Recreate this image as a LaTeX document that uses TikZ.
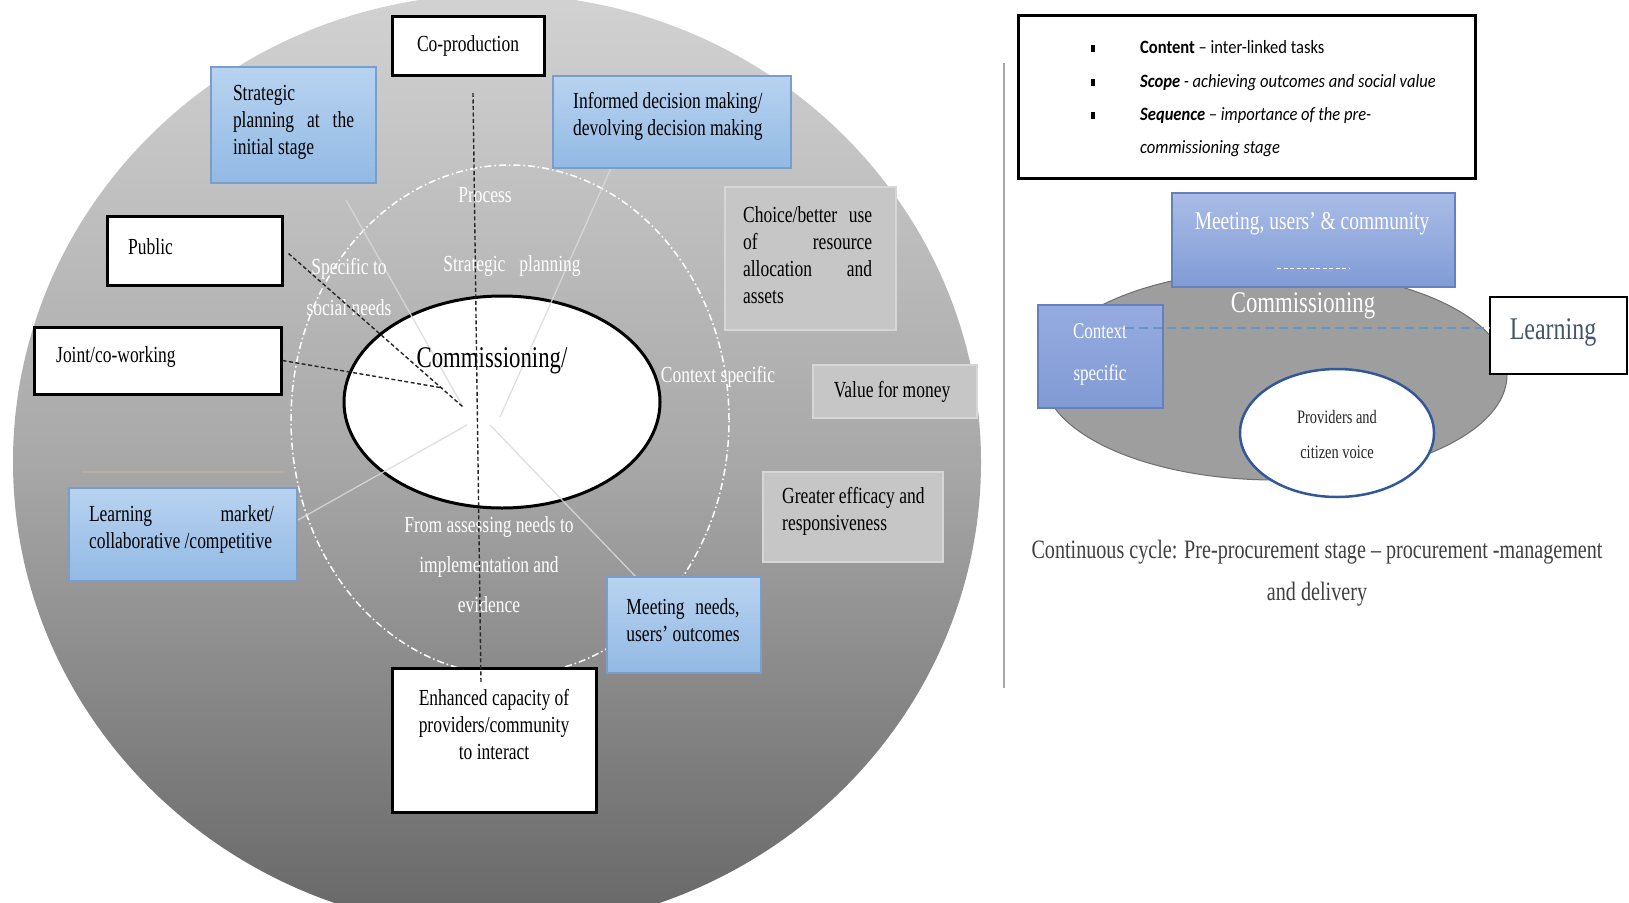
\documentclass[tikz,border=0pt]{standalone}
\usepackage{fontspec}
\usetikzlibrary{shapes.geometric}
\newfontfamily\cs{Liberation Serif}[FakeStretch=0.76]
\newfontfamily\calb{Carlito}[FakeStretch=0.88]
\definecolor{bluetop}{RGB}{184,211,240}
\definecolor{bluebot}{RGB}{146,185,228}
\definecolor{blueedge}{RGB}{122,158,204}
\definecolor{grayfill}{RGB}{198,198,198}
\definecolor{grayedge}{RGB}{214,214,214}
\definecolor{circtop}{RGB}{210,210,210}
\definecolor{circmid}{RGB}{168,168,168}
\definecolor{circbot}{RGB}{102,102,102}
\definecolor{rbtop}{RGB}{170,188,230}
\definecolor{rbbot}{RGB}{128,156,214}
\definecolor{rbedge}{RGB}{100,128,190}
\definecolor{ctxtop}{RGB}{150,172,224}
\definecolor{ctxbot}{RGB}{128,154,212}
\definecolor{ellgray}{RGB}{158,158,158}
\definecolor{elledge}{RGB}{110,110,110}
\definecolor{provedge}{RGB}{50,88,155}
\definecolor{dashblue}{RGB}{100,150,200}
\definecolor{learncol}{RGB}{68,84,106}
\definecolor{captcol}{RGB}{64,64,64}
\definecolor{spoke}{RGB}{218,218,218}
\definecolor{tanline}{RGB}{196,176,156}
\begin{document}
\begin{tikzpicture}[x=1pt,y=-1pt,
  lt/.style={font=\cs\fontsize{23}{27}\selectfont, text=black, inner sep=0pt},
  wt/.style={font=\cs\fontsize{23}{27}\selectfont, text=white, inner sep=0pt},
  wbox/.style={draw=black, line width=3pt, fill=white, rectangle, inner sep=0pt},
  bbox/.style={draw=blueedge, line width=1.2pt, top color=bluetop, bottom color=bluebot, rectangle, inner sep=0pt},
  gbox/.style={draw=grayedge, line width=1.2pt, fill=grayfill, rectangle, inner sep=0pt},
  blkdash/.style={draw=black!85, line width=1.4pt, dash pattern=on 4pt off 2.5pt},
  spokeline/.style={draw=spoke, line width=1.3pt, opacity=0.85},
  rbox/.style={draw=rbedge, line width=1.2pt, top color=rbtop, bottom color=rbbot, rectangle, inner sep=0pt},
  bul/.style={fill=black, rectangle, minimum width=4.5pt, minimum height=7pt, inner sep=0pt},
]
\fill[white] (0,0) rectangle (1629,902);
\useasboundingbox (0,0) rectangle (1629,902);

% ---------------- left panel ----------------
\node[ellipse, minimum width=968pt, minimum height=936pt, inner sep=0pt,
      top color=circtop, bottom color=circbot, middle color=circmid] (outer) at (497,462) {};
\node[ellipse, draw=white, line width=1.5pt, dash pattern=on 7pt off 3pt on 1.5pt off 3pt,
      minimum width=438pt, minimum height=510pt, inner sep=0pt] (ring) at (510,420) {};
\node[ellipse, draw=black, line width=3pt, fill=white, minimum width=316pt,
      minimum height=212pt, inner sep=0pt] (comm) at (502,402) {};

% faint spokes
\coordinate (h1) at (500,417); \coordinate (e1) at (611,168);
\coordinate (h2) at (463,407); \coordinate (e2) at (346,200);
\coordinate (h3) at (467,425); \coordinate (e3) at (298,520);
\coordinate (h4) at (490,425); \coordinate (e4) at (637,578);
\draw[spokeline] (h1) -- (e1);
\draw[spokeline] (h2) -- (e2);
\draw[spokeline] (h3) -- (e3);
\draw[spokeline] (h4) -- (e4);
\coordinate (tl1) at (82,472); \coordinate (tl2) at (284,472);
\draw[tanline, line width=1.5pt, opacity=0.6] (tl1) -- (tl2);

% boxes
\node[wbox, minimum width=152pt, minimum height=59pt] (copro) at (468,45.5) {};
\node[bbox, minimum width=165pt, minimum height=116pt] (strat) at (293.5,125) {};
\node[bbox, minimum width=238pt, minimum height=92pt] (inform) at (672,122) {};
\node[gbox, minimum width=171pt, minimum height=143pt] (choice) at (810.5,258.5) {};
\node[wbox, minimum width=175pt, minimum height=69pt] (public) at (194.5,250.5) {};
\node[wbox, minimum width=247pt, minimum height=67pt] (joint) at (157.5,360.5) {};
\node[gbox, minimum width=164pt, minimum height=53pt] (value) at (895,391.5) {};
\node[bbox, minimum width=228pt, minimum height=93pt] (learnm) at (183,534.5) {};
\node[gbox, minimum width=180pt, minimum height=90pt] (greater) at (853,517) {};
\node[bbox, minimum width=154pt, minimum height=96pt] (meetn) at (684,625) {};
\node[wbox, minimum width=204pt, minimum height=144pt] (enh) at (494,740) {};

% box texts
\node[lt] (tcopro) at (468,46) {Co-production};
\node[lt, align=left] (tstrat) at (293.5,122) {Strategic\\\makebox[121pt][s]{planning at the}\\initial stage};
\node[lt, align=left, anchor=west] (tinform) at (573,116.5) {Informed decision making/\\devolving decision making};
\node[lt, align=left] (tchoice) at (808.5,255) {\makebox[129pt][s]{Choice/better use}\\\makebox[129pt][s]{of resource}\\\makebox[129pt][s]{allocation and}\\assets\hspace*{90pt}};
\node[lt, anchor=west] (tpublic) at (128,247) {Public};
\node[lt, anchor=west] (tjoint) at (56,357) {Joint/co-working};
\node[lt] (tvalue) at (892,392) {Value for money};
\node[lt, align=left] (tlearnm) at (181.5,529) {\makebox[185pt][s]{Learning market/}\\collaborative /competitive};
\node[lt, align=left, anchor=west] (tgreater) at (782,511) {Greater efficacy and\\responsiveness};
\node[lt, align=left] (tmeetn) at (683,620) {\makebox[113pt][s]{Meeting needs,}\\users’ outcomes};
\node[lt, align=center] (tenh) at (494,725) {Enhanced capacity of\\providers/community\\to interact};

% white labels in ring
\node[wt] (process) at (485,195) {Process};
\node[wt] (stratpl) at (512,266) {Strategic\hspace{14pt}planning};
\node[wt, align=center, font=\cs\fontsize{23}{41}\selectfont] (specific) at (349,287) {Specific to\\social needs};
\node[wt] (ctxspec) at (718,377) {Context specific};
\node[wt, align=center, font=\cs\fontsize{23}{40}\selectfont] (fromass) at (489,565) {From assessing needs to\\implementation and\\evidence};
\node[inner sep=0pt, font=\cs\fontsize{30}{34}\selectfont] (tcomm) at (492,361) {Commissioning/};

% black dashed connectors
\coordinate (vtop) at (473,93);
\coordinate (vbot) at (481,683);
\coordinate (pubend) at (463,407);
\coordinate (jointend) at (443,388);
\draw[blkdash] (vtop) -- (vbot);
\draw[blkdash] ([xshift=5pt,yshift=-3pt]public.east) -- (pubend);
\draw[blkdash] (joint.east) -- (jointend);

% ---------------- right panel ----------------
\coordinate (septop) at (1004,63);
\coordinate (sepbot) at (1004,688);
\draw[gray!70, line width=1.5pt] (septop) -- (sepbot);

\node[wbox, minimum width=457pt, minimum height=163pt] (bulletbox) at (1246.5,96.5) {};
\node[bul] (b1) at (1093,48) {};
\node[bul] (b2) at (1093,82) {};
\node[bul] (b3) at (1093,115) {};
\node[inner sep=0pt, anchor=west, align=left, font=\calb\fontsize{18.8}{33.3}\selectfont] (bullets) at (1140,99)
  {\textbf{Content} – inter-linked tasks\\
   \textbf{\textit{Scope}} \textit{- achieving outcomes and social value}\\
   \textbf{\textit{Sequence}} \textit{– importance of the pre-}\\
   \textit{commissioning stage}};

\node[ellipse, fill=ellgray, draw=elledge, line width=1pt, minimum width=464pt,
      minimum height=210pt, inner sep=0pt] (cycle) at (1275,375) {};
\node[rbox, minimum width=283pt, minimum height=94pt] (meetu) at (1313.5,240) {};
\node[inner sep=0pt, text=white, font=\cs\fontsize{25.6}{30}\selectfont] (tmeetu) at (1312,224) {Meeting, users’ \& community};
\coordinate (d1) at (1277,268); \coordinate (d2) at (1349,268);
\draw[white, line width=1pt, dash pattern=on 4pt off 2.5pt] (d1) -- (d2);

\node[draw=rbedge, line width=1.2pt, top color=ctxtop, bottom color=ctxbot, rectangle,
      inner sep=0pt, minimum width=125pt, minimum height=103pt] (ctx) at (1100.5,356.5) {};
\node[inner sep=0pt, text=white, align=center, font=\cs\fontsize{22.4}{42}\selectfont] (tctx) at (1100,354) {Context\\specific};
\node[inner sep=0pt, text=white, font=\cs\fontsize{30}{34}\selectfont] (tcycle) at (1303,306) {Commissioning};

\node[draw=black, line width=1.3pt, fill=white, rectangle, inner sep=0pt,
      minimum width=137pt, minimum height=77pt] (learn) at (1558.5,335.5) {};
\node[inner sep=0pt, text=learncol, font=\cs\fontsize{31.5}{36}\selectfont] (tlearn) at (1553,332) {Learning};

\coordinate (ctxin) at (1125,328);
\draw[dashblue, line width=2.5pt, dash pattern=on 9pt off 5pt] (ctxin) -- (ctxin -| learn.west);

\node[ellipse, draw=provedge, line width=2.5pt, fill=white, minimum width=194pt,
      minimum height=128pt, inner sep=0pt] (prov) at (1337,433) {};
\node[inner sep=0pt, align=center, text=black!85, font=\cs\fontsize{19}{35}\selectfont] (tprov) at (1337,434.5) {Providers and\\citizen voice};

\node[inner sep=0pt, align=center, text=captcol, font=\cs\fontsize{26.5}{42}\selectfont] (caption) at (1317,573)
  {Continuous cycle: Pre-procurement stage – procurement -management\\and delivery};
\end{tikzpicture}
\end{document}
